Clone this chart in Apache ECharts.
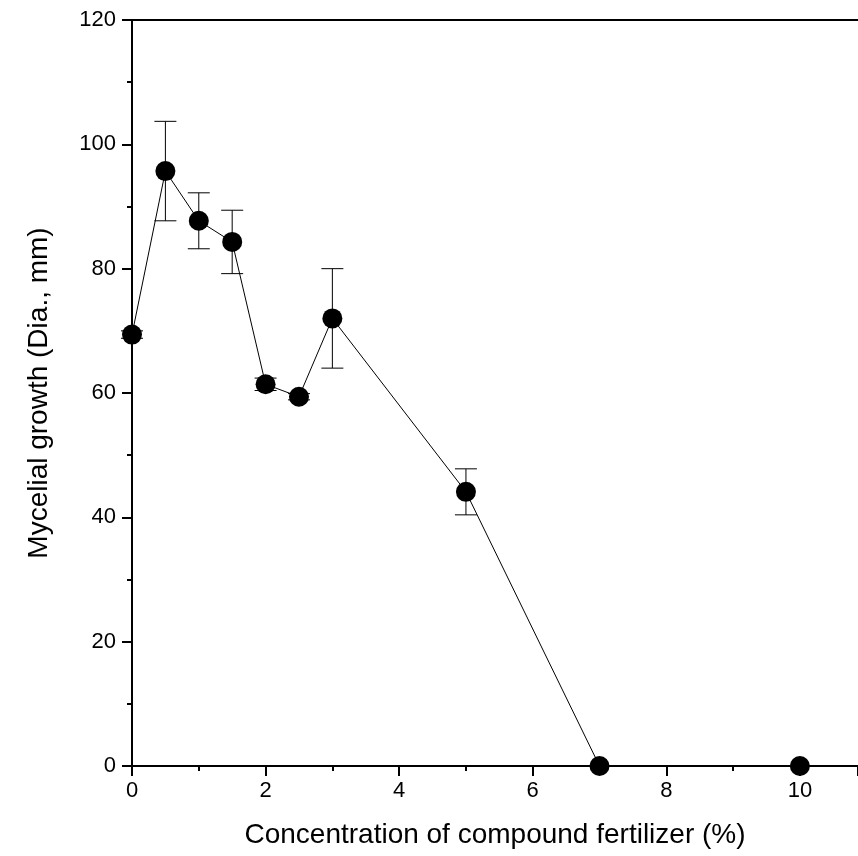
<!DOCTYPE html>
<html>
<head>
<meta charset="utf-8">
<script src="https://cdn.jsdelivr.net/npm/echarts@6/dist/echarts.min.js"></script>
<style>
html,body{margin:0;padding:0;background:#fff;}
#chart{width:858px;height:856px;}
</style>
</head>
<body>
<div id="chart"></div>
<script>
// 浓度 (%) 与菌丝生长直径 (mm)
var conc = [0, 0.5, 1, 1.5, 2, 2.5, 3, 5, 7, 10];
var growth = [69.4, 95.7, 87.7, 84.3, 61.4, 59.4, 72.0, 44.1, 0, 0];
var err = [0.6, 8.0, 4.5, 5.1, 1.0, 0.5, 8.0, 3.7, 0, 0];

var lineData = conc.map(function (x, i) { return [x, growth[i]]; });
var errData = conc.map(function (x, i) { return [x, growth[i] - err[i], growth[i] + err[i]]; });

var chart = echarts.init(document.getElementById('chart'));
var font = 'Liberation Sans, Arial, sans-serif';

var option = {
    animation: false,
    backgroundColor: '#fff',
    grid: {
        left: 132,
        right: 0,
        top: 20,
        bottom: 90
    },
    xAxis: [{
        type: 'value',
        min: 0,
        max: 10.87,
        interval: 2,
        name: 'Concentration of compound fertilizer (%)',
        nameLocation: 'middle',
        nameGap: 55,
        nameTextStyle: { fontFamily: font, fontSize: 28, color: '#000' },
        axisLine: { onZero: false, lineStyle: { color: '#000', width: 2 } },
        axisTick: { length: 10, lineStyle: { color: '#000', width: 2 } },
        minorTick: { show: true, splitNumber: 2, length: 5, lineStyle: { color: '#000', width: 2 } },
        axisLabel: {
            fontFamily: font, fontSize: 22, color: '#000', margin: 14,
            showMaxLabel: false
        },
        splitLine: { show: false }
    }, {
        type: 'value',
        position: 'top',
        min: 0,
        max: 10.87,
        axisLine: { show: true, onZero: false, lineStyle: { color: '#000', width: 2 } },
        axisTick: { show: false },
        axisLabel: { show: false },
        splitLine: { show: false }
    }],
    yAxis: {
        type: 'value',
        min: 0,
        max: 120,
        interval: 20,
        name: 'Mycelial growth (Dia., mm)',
        nameLocation: 'middle',
        nameGap: 79,
        nameTextStyle: { fontFamily: font, fontSize: 28, color: '#000' },
        axisLine: { show: true, onZero: false, lineStyle: { color: '#000', width: 2 } },
        axisTick: { length: 10, lineStyle: { color: '#000', width: 2 } },
        minorTick: { show: true, splitNumber: 2, length: 5, lineStyle: { color: '#000', width: 2 } },
        axisLabel: { fontFamily: font, fontSize: 22, color: '#000', margin: 16 },
        splitLine: { show: false }
    },
    series: [{
        type: 'custom',
        data: errData,
        z: 3,
        renderItem: function (params, api) {
            var x = api.value(0);
            var lo = api.coord([x, api.value(1)]);
            var hi = api.coord([x, api.value(2)]);
            var w = 11;
            var st = { stroke: '#000', lineWidth: 1 };
            return {
                type: 'group',
                children: [
                    { type: 'line', shape: { x1: hi[0], y1: hi[1], x2: lo[0], y2: lo[1] }, style: st },
                    { type: 'line', shape: { x1: hi[0] - w, y1: hi[1], x2: hi[0] + w, y2: hi[1] }, style: st },
                    { type: 'line', shape: { x1: lo[0] - w, y1: lo[1], x2: lo[0] + w, y2: lo[1] }, style: st }
                ]
            };
        }
    }, {
        type: 'line',
        data: lineData,
        z: 4,
        symbol: 'circle',
        symbolSize: 20,
        itemStyle: { color: '#000' },
        lineStyle: { color: '#000', width: 1 }
    }]
};

chart.setOption(option);
</script>
</body>
</html>
